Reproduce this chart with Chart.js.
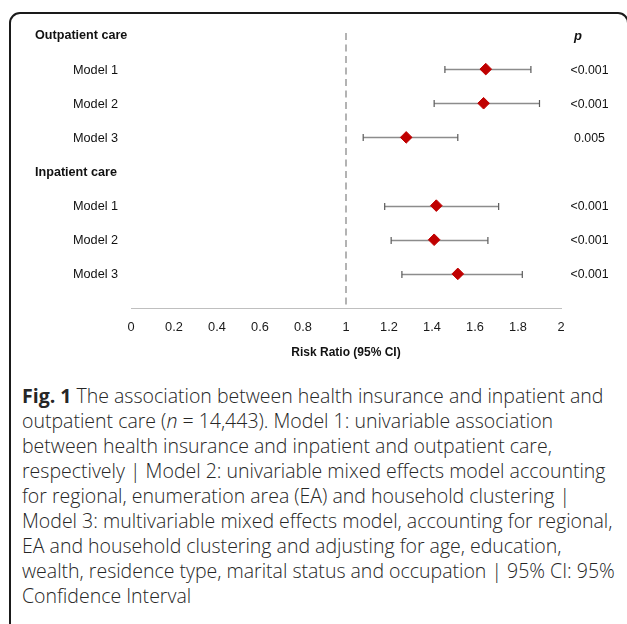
<!DOCTYPE html>
<html>
<head>
<meta charset="utf-8">
<script src="https://cdn.jsdelivr.net/npm/chart.js@4.4.0/dist/chart.umd.min.js"></script>
<style>
  html, body { margin: 0; padding: 0; background: #fff; width: 627px; height: 624px; overflow: hidden; }
  #frame { position: absolute; left: 9px; top: 12px; width: 620px; height: 640px;
           border: 2px solid #1a1a1a; border-radius: 11px; box-sizing: border-box; }
  #plot { position: absolute; left: 0; top: 0; width: 627px; height: 380px; }
  #caption { position: absolute; left: 22px; top: 382.5px; font-family: "Open Sans", sans-serif;
             font-size: 19.5px; font-weight: 300; line-height: 25.1px; color: #262626; white-space: nowrap; }
  #caption b { font-weight: 700; }
</style>
</head>
<body>
<div id="frame"></div>
<div id="plot"><canvas id="chart" width="627" height="380"></canvas></div>
<div id="caption">
  <div><b>Fig. 1</b> The association between health insurance and inpatient and</div>
  <div>outpatient care (<i>n</i> = 14,443). Model 1: univariable association</div>
  <div>between health insurance and inpatient and outpatient care,</div>
  <div>respectively | Model 2: univariable mixed effects model accounting</div>
  <div>for regional, enumeration area (EA) and household clustering |</div>
  <div>Model 3: multivariable mixed effects model, accounting for regional,</div>
  <div>EA and household clustering and adjusting for age, education,</div>
  <div>wealth, residence type, marital status and occupation | 95% CI: 95%</div>
  <div>Confidence Interval</div>
</div>
<script>
// Row layout of the forest plot (row 8 is the x axis itself)
const rowLabels  = ['Outpatient care', 'Model 1', 'Model 2', 'Model 3',
                    'Inpatient care', 'Model 1', 'Model 2', 'Model 3'];
const headerRows = [0, 4];
const modelRows  = [1, 2, 3, 5, 6, 7];

// Risk ratios with 95% confidence limits, one entry per model row
const riskRatio = [1.65, 1.64, 1.28, 1.42, 1.41, 1.52];
const ciLower   = [1.46, 1.41, 1.08, 1.18, 1.21, 1.26];
const ciUpper   = [1.86, 1.90, 1.52, 1.71, 1.66, 1.82];
const pValues   = ['<0.001', '<0.001', '0.005', '<0.001', '<0.001', '<0.001'];

// Axis ticks and reference line
const xTicks    = [0, 0.2, 0.4, 0.6, 0.8, 1, 1.2, 1.4, 1.6, 1.8, 2];
const nullValue = 1;

const LABEL_FONT = '"Liberation Sans", Arial, sans-serif';

const forestPlugin = {
  id: 'forest',
  beforeDatasetsDraw(chart) {
    const { ctx, chartArea, scales: { x, y } } = chart;
    ctx.save();
    // dashed line of no effect
    const xn = Math.round(x.getPixelForValue(nullValue));
    ctx.strokeStyle = '#b3b3b3';
    ctx.lineWidth = 2;
    ctx.setLineDash([7, 4.5]);
    ctx.beginPath();
    ctx.moveTo(xn, chartArea.top - 2);
    ctx.lineTo(xn, chartArea.bottom);
    ctx.stroke();
    ctx.setLineDash([]);
    // confidence intervals with end caps
    modelRows.forEach((row, i) => {
      const py = Math.round(y.getPixelForValue(row)) + 0.5;
      const x0 = x.getPixelForValue(ciLower[i]);
      const x1 = x.getPixelForValue(ciUpper[i]);
      ctx.strokeStyle = '#8c8c8c';
      ctx.lineWidth = 1.4;
      ctx.beginPath();
      ctx.moveTo(x0, py);
      ctx.lineTo(x1, py);
      ctx.stroke();
      ctx.strokeStyle = '#5a5a5a';
      ctx.lineWidth = 1.2;
      ctx.beginPath();
      ctx.moveTo(x0, py - 3.5); ctx.lineTo(x0, py + 3.5);
      ctx.moveTo(x1, py - 3.5); ctx.lineTo(x1, py + 3.5);
      ctx.stroke();
    });
    ctx.restore();
  },
  afterDraw(chart) {
    const { ctx, scales: { y } } = chart;
    ctx.save();
    ctx.fillStyle = '#111';
    ctx.textBaseline = 'middle';
    // row labels
    rowLabels.forEach((label, row) => {
      const py = y.getPixelForValue(row) + 1;
      ctx.textAlign = 'left';
      if (headerRows.includes(row)) {
        ctx.font = 'bold 12.6px ' + LABEL_FONT;
        ctx.fillText(label, 35, py);
      } else {
        ctx.font = '12.7px ' + LABEL_FONT;
        ctx.fillText(label, 73, py);
      }
    });
    // p-value column
    ctx.font = 'italic bold 13px ' + LABEL_FONT;
    ctx.textAlign = 'left';
    ctx.fillText('p', 574, y.getPixelForValue(0) + 1);
    ctx.font = '12.3px ' + LABEL_FONT;
    ctx.textAlign = 'center';
    modelRows.forEach((row, i) => {
      ctx.fillText(pValues[i], 589.5, y.getPixelForValue(row) + 1);
    });
    ctx.restore();
  }
};

new Chart(document.getElementById('chart'), {
  type: 'scatter',
  data: {
    datasets: [{
      data: modelRows.map((row, i) => ({ x: riskRatio[i], y: row })),
      pointStyle: 'rectRot',
      pointRadius: 5.8,
      pointBackgroundColor: '#c00000',
      pointBorderColor: '#c00000',
      pointBorderWidth: 1
    }]
  },
  options: {
    responsive: false,
    animation: false,
    events: [],
    layout: { padding: { left: 131, right: 66, top: 35, bottom: 10 } },
    plugins: { legend: { display: false }, tooltip: { enabled: false } },
    scales: {
      x: {
        type: 'linear',
        min: 0, max: 2,
        afterBuildTicks: (s) => { s.ticks = xTicks.map(v => ({ value: v })); },
        afterFit: (s) => { s.height = 62; },
        ticks: {
          callback: (v) => String(+(+v).toFixed(1)),
          font: { family: LABEL_FONT, size: 12.8 },
          color: '#1a1a1a',
          padding: 11.3,
          maxRotation: 0,
          autoSkip: false
        },
        grid: { display: false, drawTicks: false },
        border: { display: true, color: '#bfbfbf', width: 1 },
        title: {
          display: true,
          text: 'Risk Ratio (95% CI)',
          font: { family: LABEL_FONT, size: 12, weight: 'bold' },
          color: '#111',
          padding: { top: 0, bottom: 10.1 }
        }
      },
      y: {
        type: 'linear',
        min: 0, max: 8,
        reverse: true,
        display: false
      }
    }
  },
  plugins: [forestPlugin]
});
</script>
</body>
</html>
